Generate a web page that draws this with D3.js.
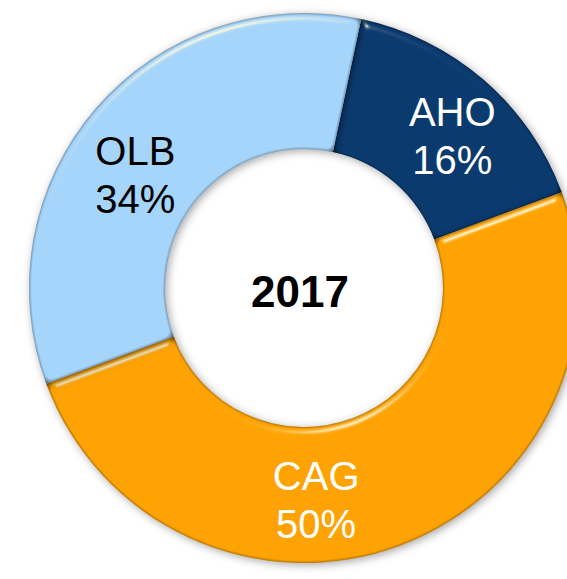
<!DOCTYPE html>
<html>
<head>
<meta charset="utf-8">
<script src="https://cdn.jsdelivr.net/npm/d3@7"></script>
<style>
    html, body { margin: 0; padding: 0; background: #fff; }
    svg { display: block; }
</style>
</head>
<body>
<div id="chart"></div>
<script>
"use strict";

const categories = ["AHO", "CAG", "OLB"];
const shares = [16, 50, 34];
const centerLabel = "2017";

const WIDTH = 567;
const HEIGHT = 579;
const CX = 304;
const CY = 288;
const OUTER_RADIUS = 275;
const INNER_RADIUS = 139;
const START_DEG = 12;
const FONT = "'Liberation Sans', Arial, sans-serif";
const LABEL_SIZE = 40;
const LINE_GAP = 48;

const colors = d3.scaleOrdinal()
    .domain(categories)
    .range(["#0b3a6f", "#fea303", "#a6d5fb"]);
const labelColors = d3.scaleOrdinal()
    .domain(categories)
    .range(["#ffffff", "#ffffff", "#000000"]);

// hand nudges from the slice centroid, the source placed labels by hand
const LABEL_NUDGE = {
    AHO: [13, 4],
    CAG: [-60, 17],
    OLB: [-12, 22]
};

const svg = d3.select("#chart").append("svg")
    .attr("width", WIDTH)
    .attr("height", HEIGHT);

const defs = svg.append("defs");
const bevel = defs.append("filter")
    .attr("id", "bevel")
    .attr("color-interpolation-filters", "sRGB")
    .attr("x", "-10%").attr("y", "-10%")
    .attr("width", "120%").attr("height", "120%");
bevel.append("feGaussianBlur")
    .attr("in", "SourceAlpha")
    .attr("stdDeviation", 4)
    .attr("result", "blur");
// soft shadow just outside, offset down-right
bevel.append("feOffset")
    .attr("in", "blur")
    .attr("dx", 2).attr("dy", 2)
    .attr("result", "blurOff");
bevel.append("feFlood")
    .attr("flood-color", "#000")
    .attr("flood-opacity", 0.35)
    .attr("result", "shadowCol");
bevel.append("feComposite")
    .attr("in", "shadowCol").attr("in2", "blurOff")
    .attr("operator", "in")
    .attr("result", "shadow");
// dark rim where the blurred alpha falls off
bevel.append("feComponentTransfer")
    .attr("in", "blur")
    .attr("result", "rimMask")
    .append("feFuncA")
    .attr("type", "linear")
    .attr("slope", -2.2)
    .attr("intercept", 1.6);
bevel.append("feFlood")
    .attr("flood-color", "#000")
    .attr("flood-opacity", 0.55)
    .attr("result", "dark");
bevel.append("feComposite")
    .attr("in", "dark").attr("in2", "rimMask")
    .attr("operator", "in")
    .attr("result", "rim");
bevel.append("feComposite")
    .attr("in", "rim").attr("in2", "SourceAlpha")
    .attr("operator", "in")
    .attr("result", "rimIn");
const spec = bevel.append("feSpecularLighting")
    .attr("in", "blur")
    .attr("surfaceScale", 5)
    .attr("specularConstant", 0.85)
    .attr("specularExponent", 60)
    .attr("lighting-color", "#fffbe0")
    .attr("result", "spec");
spec.append("feDistantLight")
    .attr("azimuth", 250)
    .attr("elevation", 40);
bevel.append("feComposite")
    .attr("in", "spec").attr("in2", "SourceAlpha")
    .attr("operator", "in")
    .attr("result", "specIn");
const merge = bevel.append("feMerge");
merge.append("feMergeNode").attr("in", "shadow");
merge.append("feMergeNode").attr("in", "SourceGraphic");
merge.append("feMergeNode").attr("in", "rimIn");
merge.append("feMergeNode").attr("in", "specIn");

const data = categories.map((c, i) => ({ name: c, value: shares[i] }));

const pie = d3.pie()
    .sort(null)
    .value(d => d.value)
    .startAngle(START_DEG * Math.PI / 180)
    .endAngle((START_DEG + 360) * Math.PI / 180);

const arc = d3.arc()
    .innerRadius(INNER_RADIUS)
    .outerRadius(OUTER_RADIUS);

const g = svg.append("g")
    .attr("transform", `translate(${CX},${CY})`);

const arcs = pie(data);

g.selectAll("path.slice")
    .data(arcs)
    .join("path")
    .attr("class", "slice")
    .attr("d", arc)
    .attr("fill", d => colors(d.data.name))
    .attr("filter", "url(#bevel)");

const labels = g.selectAll("text.label")
    .data(arcs)
    .join("text")
    .attr("class", "label")
    .attr("text-anchor", "middle")
    .attr("font-family", FONT)
    .attr("font-size", LABEL_SIZE)
    .attr("fill", d => labelColors(d.data.name))
    .attr("transform", d => {
        const c = arc.centroid(d);
        const n = LABEL_NUDGE[d.data.name];
        return `translate(${c[0] + n[0]},${c[1] + n[1]})`;
    });

labels.append("tspan")
    .attr("x", 0)
    .attr("y", -9.5)
    .text(d => d.data.name);
labels.append("tspan")
    .attr("x", 0)
    .attr("y", -9.5 + LINE_GAP)
    .text(d => d.data.value + "%");

g.append("text")
    .attr("x", -4)
    .attr("y", 19)
    .attr("text-anchor", "middle")
    .attr("font-family", FONT)
    .attr("font-weight", "bold")
    .attr("font-size", 44)
    .attr("fill", "#000")
    .text(centerLabel);
</script>
</body>
</html>
